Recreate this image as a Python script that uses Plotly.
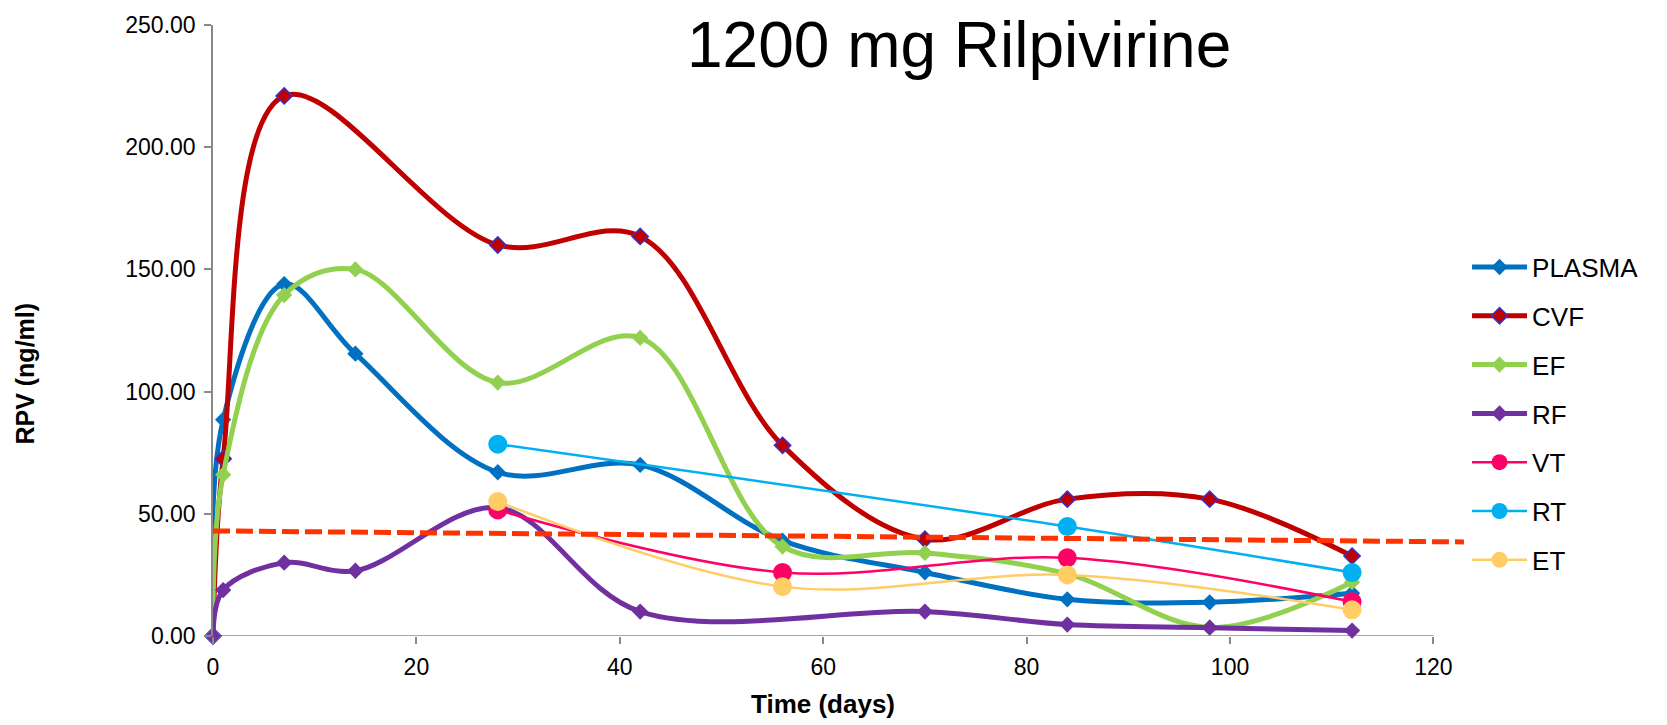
import plotly.graph_objects as go

days = [0, 1, 7, 14, 28, 42, 56, 70, 84, 98, 112]
plasma = [0, 88.5, 144, 115.5, 67, 70, 39, 26, 15, 13.8, 17.5]
cvf = [0, 72.5, 221, None, 160, 163.5, 78, 39.6, 56, 56, 32.7]
ef = [0, 66, 139.5, 150, 103.7, 122, 36.6, 34, 25.4, 3.5, 22]
rf_days = [0, 1, 7, 14, 28, 42, 70, 84, 98, 112]
rf = [0, 18.8, 30, 26.7, 52.5, 10, 10, 4.7, 3.4, 2.2]
tissue_days = [28, 56, 84, 112]
vt = [51.6, 26, 32, 14]
rt_days = [28, 84, 112]
rt = [78.5, 44.8, 26]
et = [55, 20.2, 25, 10.7]
ref_x = [0, 123]
ref_y = [43, 38.5]

x_ticks = [0, 20, 40, 60, 80, 100, 120]
y_ticks = [0, 50, 100, 150, 200, 250]

FONT = "Liberation Sans, Arial, sans-serif"

W, H = 1667, 725
L, T, B = 213, 16, 88.5
XMAX = 123.3
PX_PER_DAY = 10.17
PW = XMAX * PX_PER_DAY
R = W - L - PW
PH = H - T - B
Y0 = H - B  # pixel row of y=0


def px_x(p):
    return (p - L) / PW


def px_y(p):
    return (Y0 - p) / PH


fig = go.Figure()


def clean(xs, ys):
    pts = [(a, b) for a, b in zip(xs, ys) if b is not None]
    return [p[0] for p in pts], [p[1] for p in pts]


def add_series(name, xs, ys, color, width, symbol, size, mline_color=None, mline_w=0):
    xs, ys = clean(xs, ys)
    fig.add_trace(go.Scatter(
        x=xs, y=ys, name=name, mode="lines+markers", legendgroup=name, cliponaxis=False,
        line=dict(color=color, width=width, shape="spline", smoothing=1.0),
        marker=dict(symbol=symbol, size=size, color=color,
                    line=dict(color=mline_color or color, width=mline_w)),
    ))


add_series("PLASMA", days, plasma, "#0070C0", 5, "diamond", 12.5)
add_series("CVF", days, cvf, "#C00000", 5, "diamond", 12.5, "#3333CC", 1.5)
add_series("EF", days, ef, "#92D050", 5, "diamond", 12.5)
add_series("RF", rf_days, rf, "#7030A0", 5, "diamond", 12.5)
add_series("VT", tissue_days, vt, "#FF0066", 2.5, "circle", 19)
add_series("RT", rt_days, rt, "#00B0F0", 2.5, "circle", 19)
add_series("ET", tissue_days, et, "#FFCC66", 2.5, "circle", 19)

fig.add_trace(go.Scatter(
    x=ref_x, y=ref_y, mode="lines", showlegend=False, hoverinfo="skip",
    line=dict(color="#FF3300", width=5, dash="17px,6px"),
))

# x axis line only up to 120
fig.add_shape(type="line", xref="x", yref="y", x0=0, x1=120, y0=0, y1=0,
              line=dict(color="#898989", width=1.5), layer="below")

fig.update_layout(
    width=W, height=H,
    margin=dict(l=L, r=R, t=T, b=B),
    plot_bgcolor="white", paper_bgcolor="white",
    font=dict(family=FONT, color="black", size=23),
    xaxis=dict(range=[0, XMAX], tickvals=x_ticks, ticktext=[str(v) for v in x_ticks],
               showgrid=False, zeroline=False, showline=False,
               ticks="outside", ticklen=7, tickcolor="#898989", tickwidth=1.5,
               ticklabelstandoff=3, ticklabeloverflow="allow",
               tickfont=dict(size=23, family=FONT)),
    yaxis=dict(range=[0, 250], tickvals=y_ticks, ticktext=[f"{v:.2f}" for v in y_ticks],
               showgrid=False, zeroline=False, showline=True, linecolor="#898989", linewidth=1.5,
               ticks="outside", ticklen=7, tickcolor="#898989", tickwidth=1.5,
               ticklabelstandoff=4, ticklabeloverflow="allow",
               tickfont=dict(size=23, family=FONT)),
    legend=dict(x=px_x(1467), y=px_y(238), xanchor="left", yanchor="top",
                font=dict(size=26, family=FONT), tracegroupgap=12, itemwidth=55,
                bgcolor="rgba(0,0,0,0)"),
    showlegend=True,
)

fig.add_annotation(text="1200 mg Rilpivirine", xref="paper", yref="paper",
                   x=px_x(959), y=px_y(36), xanchor="center", yanchor="middle",
                   showarrow=False, font=dict(size=64, family=FONT, color="black"))
fig.add_annotation(text="<b>Time (days)</b>", xref="paper", yref="paper",
                   x=px_x(823), y=px_y(706), xanchor="center", yanchor="middle",
                   showarrow=False, font=dict(size=26, family=FONT, color="black"))
fig.add_annotation(text="<b>RPV (ng/ml)</b>", xref="paper", yref="paper",
                   x=px_x(25), y=px_y(370), xanchor="center", yanchor="middle",
                   textangle=-90, showarrow=False, font=dict(size=25, family=FONT, color="black"))

fig.write_html("out.html", config={"displayModeBar": False},
               post_script="document.body.style.margin='0';document.body.style.overflow='hidden';")
